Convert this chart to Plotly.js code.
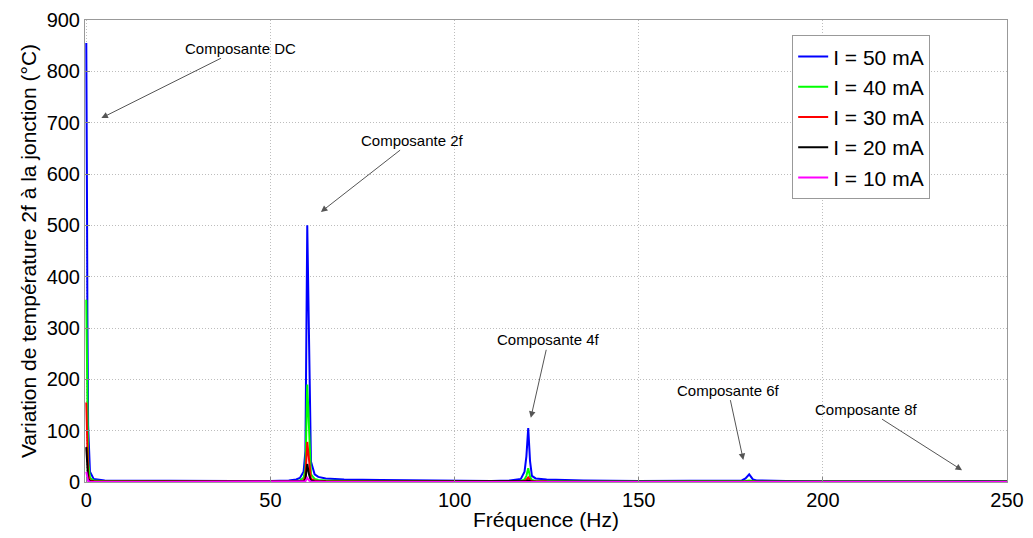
<!DOCTYPE html>
<html>
<head>
<meta charset="utf-8">
<script src="https://cdn.plot.ly/plotly-3.0.1.min.js"></script>
<style>html,body{margin:0;padding:0;background:#fff;}#chart{width:1033px;height:538px;}</style>
</head>
<body>
<div id="chart"></div>
<script>
// Frequency points (Hz)
const freq = [0, 0.1, 0.2, 0.3, 0.5, 1, 2, 5, 20, 40, 50, 55, 57, 58, 59, 59.5, 60, 60.5, 61, 62, 63, 65, 70, 80, 90, 100, 110, 115, 118, 119, 119.5, 120, 120.5, 121, 122, 125, 135, 150, 170, 178, 179, 180, 181, 182, 190, 200, 230, 238, 239, 240, 241, 250];

const i50 = [855, 750, 535, 325, 110, 20, 6, 3, 2, 2, 2, 3, 5, 8, 20, 60, 500, 250, 40, 15, 10, 7, 5, 4, 3, 2, 2, 3, 6, 20, 50, 105, 40, 12, 7, 5, 3, 2, 2, 3, 7, 15, 5, 3, 2, 1.5, 1.5, 2, 2.5, 3, 2, 1.5];
const i40 = [355, 300, 200, 120, 40, 8, 3, 1.5, 1, 1, 1, 1.2, 2, 3, 8, 25, 190, 90, 15, 6, 4, 3, 2, 1.5, 1.2, 1, 1, 1.2, 2, 5, 12, 27, 10, 4, 2, 1.5, 1, 1, 1, 1.2, 2, 3, 1.5, 1, 1, 0.8, 0.8, 0.8, 0.9, 1, 0.8, 0.8];
const i30 = [155, 130, 85, 50, 15, 3, 1.5, 1, 0.8, 0.8, 0.8, 1, 1.2, 1.5, 3, 10, 78, 35, 6, 3, 2, 1.5, 1, 0.8, 0.8, 0.7, 0.7, 0.8, 1, 2, 4, 9, 4, 1.5, 1, 0.8, 0.7, 0.7, 0.7, 0.7, 0.8, 1, 0.7, 0.7, 0.6, 0.6, 0.6, 0.6, 0.6, 0.6, 0.6, 0.6];
const i20 = [68, 55, 35, 20, 6, 1.5, 0.8, 0.6, 0.5, 0.5, 0.5, 0.6, 0.7, 0.8, 1.5, 5, 35, 14, 3, 1.5, 1, 0.8, 0.6, 0.5, 0.5, 0.5, 0.5, 0.5, 0.6, 1, 1.5, 3, 1.5, 0.8, 0.6, 0.5, 0.5, 0.5, 0.5, 0.5, 0.5, 0.6, 0.5, 0.5, 0.5, 0.4, 0.4, 0.4, 0.4, 0.4, 0.4, 0.4];
const i10 = [20, 15, 9, 5, 2, 0.5, 0.3, 0.2, 0.2, 0.2, 0.2, 0.2, 0.2, 0.3, 0.5, 1.5, 8, 3, 0.8, 0.4, 0.3, 0.2, 0.2, 0.2, 0.2, 0.2, 0.2, 0.2, 0.2, 0.3, 0.5, 1, 0.5, 0.3, 0.2, 0.2, 0.2, 0.2, 0.2, 0.2, 0.2, 0.2, 0.2, 0.2, 0.2, 0.2, 0.2, 0.2, 0.2, 0.2, 0.2, 0.2];

const seriesNames = ['I = 50 mA', 'I = 40 mA', 'I = 30 mA', 'I = 20 mA', 'I = 10 mA'];
const seriesValues = [i50, i40, i30, i20, i10];
const seriesColors = ['#0000ff', '#00ff00', '#ff0000', '#000000', '#ff00ff'];

// Annotations: label, arrow head (x,y), text position (x,y)
const annLabels = ['Composante DC', 'Composante 2f', 'Composante 4f', 'Composante 6f', 'Composante 8f'];
const annHeadX = [4.1, 63.7, 120.7, 178.4, 237.8];
const annHeadY = [709, 526, 125, 43, 23];
const annTextX = [42, 88.7, 125.5, 174.3, 211.8];
const annTextY = [845, 666, 277, 179, 142];

const traces = seriesNames.map((n, k) => ({
  x: freq, y: seriesValues[k], type: 'scatter', mode: 'lines', name: n,
  line: {color: seriesColors[k], width: 2}
}));

const annotations = annLabels.map((t, k) => ({
  text: t, x: annHeadX[k], y: annHeadY[k], xref: 'x', yref: 'y',
  ax: annTextX[k], ay: annTextY[k], axref: 'x', ayref: 'y',
  showarrow: true, arrowhead: 2, arrowsize: 1.3, arrowwidth: 1, arrowcolor: '#555',
  font: {family: 'Liberation Sans, Arial, sans-serif', size: 15, color: '#000'}
}));

const axisCommon = {
  showline: true, mirror: true, linecolor: '#999', linewidth: 1,
  showgrid: true, gridcolor: '#bdbdbd', griddash: '1px,2px', gridwidth: 1,
  ticks: 'inside', ticklen: 5, tickcolor: '#888',
  zeroline: false,
  tickfont: {family: 'Liberation Sans, Arial, sans-serif', size: 20, color: '#000'}
};

const layout = {
  width: 1033, height: 538,
  margin: {l: 85, r: 26, t: 20, b: 56},
  paper_bgcolor: '#fff', plot_bgcolor: '#fff',
  showlegend: true,
  legend: {
    x: 0.767, y: 0.967, xanchor: 'left', yanchor: 'top',
    bgcolor: '#fff', bordercolor: '#999', borderwidth: 1,
    font: {family: 'Liberation Sans, Arial, sans-serif', size: 21, color: '#000'},
    tracegroupgap: 0
  },
  xaxis: Object.assign({}, axisCommon, {
    range: [-0.35, 250], tickvals: [0, 50, 100, 150, 200, 250],
    title: {text: 'Fréquence (Hz)', standoff: 2, font: {family: 'Liberation Sans, Arial, sans-serif', size: 21, color: '#000'}}
  }),
  yaxis: Object.assign({}, axisCommon, {
    range: [0, 900], dtick: 100, tick0: 0,
    title: {text: 'Variation de température 2f à la jonction (°C)', standoff: 4, font: {family: 'Liberation Sans, Arial, sans-serif', size: 21, color: '#000'}}
  }),
  annotations: annotations
};

Plotly.newPlot('chart', traces, layout, {displayModeBar: false, staticPlot: true});
</script>
</body>
</html>
